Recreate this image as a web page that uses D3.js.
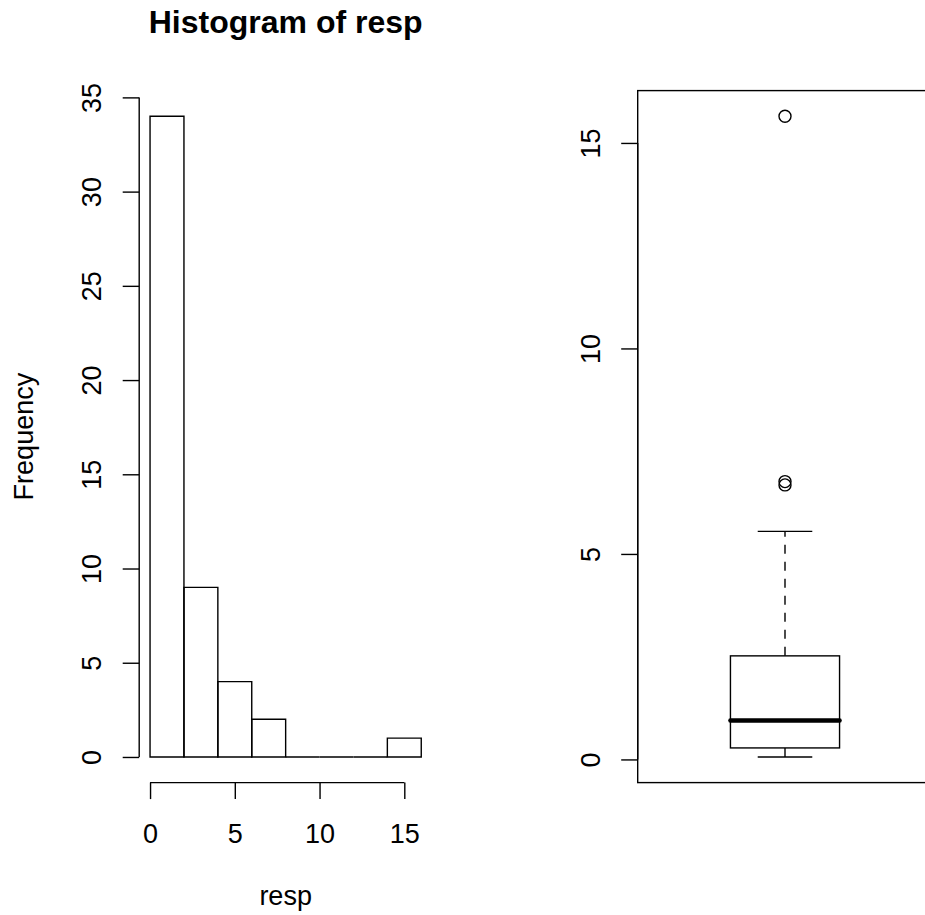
<!DOCTYPE html>
<html>
<head>
<meta charset="utf-8">
<script src="https://cdn.jsdelivr.net/npm/d3@7"></script>
<style>
  body { margin: 0; background: #fff; }
  svg { display: block; }
  text { font-family: "Liberation Sans", Arial, sans-serif; fill: #000; }
  .axis text { font-size: 27px; }
  .axis line, .axis path { stroke: #000; stroke-width: 1.4; }
</style>
</head>
<body>
<div id="chart"></div>
<script>
// histogram of resp
var hist_breaks = [0, 2, 4, 6, 8, 10, 12, 14, 16];
var hist_counts = [34, 9, 4, 2, 0, 0, 0, 1];
var hist_x_ticks = [0, 5, 10, 15];
var hist_y_ticks = [0, 5, 10, 15, 20, 25, 30, 35];

// boxplot of resp
var box_stats = [0.06, 0.28, 0.95, 2.52, 5.55]; // lower whisker, q1, median, q3, upper whisker
var box_outliers = [6.68, 6.76, 15.65];
var box_y_ticks = [0, 5, 10, 15];

var W = 925, H = 915;
var lw = 1.4;

var svg = d3.select('#chart').append('svg')
  .attr('width', W)
  .attr('height', H);

// plot regions (R style, axes extended 4%)
var left = { x0: 139.2, x1: 432.1, y0: 782.6, y1: 90.6 };
var right = { x0: 637.7, x1: 932.3, y0: 782.6, y1: 90.6 };

function draw_axis_line(g, a, b, horizontal, pos) {
  g.append('line')
    .attr('x1', horizontal ? a : pos)
    .attr('x2', horizontal ? b : pos)
    .attr('y1', horizontal ? pos : a)
    .attr('y2', horizontal ? pos : b)
    .attr('stroke', '#000')
    .attr('stroke-width', lw);
}

function y_axis_rotated(x_pos, y, ticks, label_off) {
  var g = svg.append('g')
    .attr('class', 'axis')
    .attr('transform', `translate(${ x_pos }, 0)`)
    .call(d3.axisLeft(y).tickValues(ticks).tickSize(16.5).tickSizeOuter(0));

  g.select('.domain').remove();
  draw_axis_line(g, y(ticks[0]), y(ticks[ticks.length - 1]), false, 0);

  g.selectAll('.tick text')
    .attr('transform', 'rotate(-90)')
    .attr('x', 0)
    .attr('y', -label_off)
    .attr('dy', 0)
    .attr('text-anchor', 'middle');
  return g;
}

// ---------- histogram ----------
var hx = d3.scaleLinear()
  .domain([-0.64, 16.64])
  .range([left.x0, left.x1]);

var hy = d3.scaleLinear()
  .domain([-1.36, 35.36])
  .range([left.y0, left.y1]);

var bins = hist_counts.map((c, i) => ({ x0: hist_breaks[i], x1: hist_breaks[i + 1], n: c }));

// paths instead of rects so empty bins still show as a line on the base
svg.append('g')
  .selectAll('path')
  .data(bins)
  .enter().append('path')
  .attr('d', d => {
    var p = d3.path();
    p.moveTo(hx(d.x0), hy(0));
    p.lineTo(hx(d.x1), hy(0));
    p.lineTo(hx(d.x1), hy(d.n));
    p.lineTo(hx(d.x0), hy(d.n));
    p.closePath();
    return p.toString();
  })
  .attr('fill', 'none')
  .attr('stroke', '#000')
  .attr('stroke-width', lw);

var gx = svg.append('g')
  .attr('class', 'axis')
  .attr('transform', `translate(0, ${ left.y0 })`)
  .call(d3.axisBottom(hx).tickValues(hist_x_ticks).tickSize(16.5).tickSizeOuter(0));

gx.select('.domain').remove();
draw_axis_line(gx, hx(hist_x_ticks[0]), hx(hist_x_ticks[hist_x_ticks.length - 1]), true, 0);
gx.selectAll('.tick text')
  .attr('y', 60)
  .attr('dy', 0);

y_axis_rotated(left.x0, hy, hist_y_ticks, 38);

svg.append('text')
  .attr('x', (left.x0 + left.x1) / 2)
  .attr('y', 33)
  .attr('text-anchor', 'middle')
  .style('font-size', '32px')
  .style('font-weight', 'bold')
  .text('Histogram of resp');

svg.append('text')
  .attr('x', (left.x0 + left.x1) / 2)
  .attr('y', 905)
  .attr('text-anchor', 'middle')
  .style('font-size', '27px')
  .text('resp');

svg.append('text')
  .attr('transform', `translate(33, ${ (left.y0 + left.y1) / 2 }) rotate(-90)`)
  .attr('text-anchor', 'middle')
  .style('font-size', '27px')
  .text('Frequency');

// ---------- boxplot ----------
var bx = d3.scaleLinear()
  .domain([0.46, 1.54])
  .range([right.x0, right.x1]);

var lo = box_stats[0];
var hi = d3.max(box_outliers.concat(box_stats));
var pad = (hi - lo) * 0.04;

var by = d3.scaleLinear()
  .domain([lo - pad, hi + pad])
  .range([right.y0, right.y1]);

var bg = svg.append('g');
var c = bx(1);
var half = bx(1.2) - c;
var cap = bx(1.1) - c;

// whiskers
bg.append('line')
  .attr('x1', c).attr('x2', c)
  .attr('y1', by(box_stats[3])).attr('y2', by(box_stats[4]))
  .attr('stroke', '#000').attr('stroke-width', lw)
  .attr('stroke-dasharray', '9,8');

bg.append('line')
  .attr('x1', c).attr('x2', c)
  .attr('y1', by(box_stats[1])).attr('y2', by(box_stats[0]))
  .attr('stroke', '#000').attr('stroke-width', lw)
  .attr('stroke-dasharray', '9,8');

[box_stats[0], box_stats[4]].forEach(v => {
  bg.append('line')
    .attr('x1', c - cap).attr('x2', c + cap)
    .attr('y1', by(v)).attr('y2', by(v))
    .attr('stroke', '#000').attr('stroke-width', lw);
});

bg.append('rect')
  .attr('x', c - half)
  .attr('y', by(box_stats[3]))
  .attr('width', half * 2)
  .attr('height', by(box_stats[1]) - by(box_stats[3]))
  .attr('fill', 'none')
  .attr('stroke', '#000')
  .attr('stroke-width', lw);

bg.append('line')
  .attr('x1', c - half).attr('x2', c + half)
  .attr('y1', by(box_stats[2])).attr('y2', by(box_stats[2]))
  .attr('stroke', '#000').attr('stroke-width', 4.5)
  .attr('stroke-linecap', 'round');

bg.selectAll('circle')
  .data(box_outliers)
  .enter().append('circle')
  .attr('cx', c)
  .attr('cy', d => by(d))
  .attr('r', 6)
  .attr('fill', 'none')
  .attr('stroke', '#000')
  .attr('stroke-width', lw);

// frame
svg.append('rect')
  .attr('x', right.x0)
  .attr('y', right.y1)
  .attr('width', right.x1 - right.x0)
  .attr('height', right.y0 - right.y1)
  .attr('fill', 'none')
  .attr('stroke', '#000')
  .attr('stroke-width', lw);

y_axis_rotated(right.x0, by, box_y_ticks, 38);
</script>
</body>
</html>
